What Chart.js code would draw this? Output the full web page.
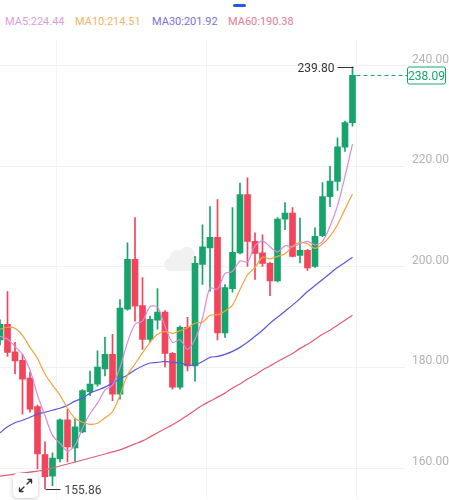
<!DOCTYPE html>
<html>
<head>
<meta charset="utf-8">
<script src="https://cdn.jsdelivr.net/npm/chart.js@4.4.0/dist/chart.umd.min.js"></script>
<style>
  html, body { margin:0; padding:0; background:#fff; }
  body { width:449px; height:500px; position:relative; overflow:hidden; font-family:Roboto, "Noto Sans", sans-serif; }
  #tab { position:absolute; left:233px; top:4px; width:13px; height:3px; background:#1d5fd8; border-radius:2px; }
  #legend { position:absolute; left:5px; top:15px; font-size:11px; white-space:nowrap; }
  #legend span { position:absolute; top:0; }
  /* faint watermark behind the candles */
  .wm { position:absolute; background:#f1f1f1; border-radius:50%; }
  /* chart area should land on y 40..500; Chart.js keeps ~13px for the tick labels */
  #wrap { position:absolute; left:0; top:26px; width:449px; height:487px; }
  #expand { position:absolute; left:13px; top:473px; width:25px; height:25px; background:#fff; border-radius:5px;
            box-shadow:0 1px 4px rgba(0,0,0,0.22); }
</style>
</head>
<body>
<div id="tab"></div>
<div id="legend"></div>
<div class="wm" style="left:164px;top:258px;width:36px;height:13px;border-radius:7px;"></div>
<div class="wm" style="left:170px;top:250px;width:14px;height:14px;"></div>
<div class="wm" style="left:179px;top:247px;width:16px;height:16px;"></div>
<div id="wrap"><canvas id="kline"></canvas></div>
<div id="expand">
  <svg width="25" height="25" viewBox="0 0 25 25" fill="none" stroke="#333" stroke-width="1.4" stroke-linecap="round" stroke-linejoin="round">
    <path d="M14 11 L18.5 6.5 M15 6.5 H18.5 V10"/>
    <path d="M11 14 L6.5 18.5 M6.5 15 V18.5 H10"/>
  </svg>
</div>
<script>
(function(){
  // candles, oldest first (last visible 48 bars)
  const opens  = [185.5,188.6,183.1,181.4,177.9,172.2,162.7,158.4,161.8,169.6,
                  164.0,167.2,175.2,176.7,179.7,182.6,174.7,191.6,201.5,192.3,
                  185.6,189.4,191.0,182.8,176.1,188.0,180.3,200.5,203.8,205.9,
                  186.9,195.7,202.8,214.4,205.1,202.8,200.7,197.2,209.5,210.7,
                  202.3,203.3,200.1,206.2,214.0,217.0,223.8,228.7];
  const highs  = [189.5,195.1,185.0,182.6,179.1,172.5,165.2,163.0,169.8,171.7,
                  169.7,175.6,179.3,183.3,186.0,186.6,193.5,204.8,209.8,197.9,
                  190.2,195.7,191.3,183.0,188.3,190.0,202.1,208.4,212.0,213.4,
                  196.5,211.8,216.7,217.7,206.8,206.4,200.9,209.8,212.8,211.8,
                  209.7,203.5,207.8,216.8,220.0,225.7,229.0,239.80];
  const lows   = [184.5,182.2,178.7,170.7,171.1,159.8,155.86,156.5,161.2,161.2,
                  161.2,167.0,174.4,176.3,178.3,173.4,173.7,191.4,189.2,183.6,
                  185.0,187.6,180.1,175.7,175.7,179.3,177.3,196.5,195.2,185.5,
                  186.0,195.0,202.6,200.1,197.5,200.1,194.3,197.0,207.4,202.0,
                  200.8,199.3,199.9,206.0,212.0,215.2,223.0,228.0];
  const closes = [188.6,183.0,181.3,177.7,171.7,162.8,158.3,162.0,169.6,164.2,
                  168.2,175.4,176.7,180.1,182.6,174.7,191.8,201.5,192.2,185.6,
                  189.6,191.0,182.8,176.1,188.0,180.3,200.7,204.0,205.9,186.9,
                  195.9,202.9,214.4,205.1,202.7,200.7,197.2,209.5,210.7,202.1,
                  203.3,199.8,206.1,214.0,217.1,223.9,228.7,238.09];

  // moving averages as drawn
  const ma5  = [186.2,185.6,184.2,182.6,179.5,174.5,170.4,166.5,164.9,163.4,
                164.5,167.9,170.8,172.9,175.5,176.5,180.0,185.0,188.6,189.2,
                192.1,192.0,188.2,185.0,185.5,183.6,185.6,189.8,195.8,195.6,
                198.7,199.1,201.2,201.0,204.2,205.2,204.0,203.0,204.2,204.0,
                204.6,205.1,204.4,205.1,208.1,212.2,218.0,224.44];
  const ma10 = [187.6,188.0,187.8,186.4,184.0,181.8,178.7,176.5,174.5,171.9,
                169.9,169.1,168.7,168.9,170.0,171.2,174.5,178.5,180.7,182.9,
                185.0,186.6,187.2,186.8,187.3,187.9,188.8,189.0,190.4,190.5,
                191.2,192.4,195.5,198.4,199.9,201.9,201.6,202.1,202.6,204.1,
                204.9,204.6,203.7,204.6,206.1,208.4,211.5,214.51];
  const ma30 = [167.0,168.2,169.0,169.5,170.1,170.7,171.1,171.5,171.9,172.5,
                173.3,173.9,174.9,175.5,176.1,176.9,177.7,178.5,179.5,180.3,
                180.9,181.0,181.2,181.0,180.9,180.5,180.5,181.2,182.0,182.2,
                182.6,183.2,184.0,185.0,186.2,187.4,188.8,190.0,191.2,192.4,
                193.7,195.1,196.3,197.5,198.7,199.9,200.9,201.92];
  const ma60 = [158.4,158.6,158.8,159.0,159.2,159.4,159.6,160.0,160.4,160.8,
                161.2,161.6,162.0,162.4,162.8,163.2,163.6,164.2,164.8,165.4,
                166.2,167.0,167.8,168.6,169.5,170.5,171.5,172.5,173.3,174.1,
                174.9,175.9,176.7,177.7,178.5,179.5,180.3,181.2,182.0,182.8,
                183.8,184.6,185.6,186.6,187.4,188.4,189.4,190.38];

  const yTicks = [160, 180, 200, 220, 240];
  const slotCount = 55;            // 48 bars + empty space on the right
  const gridSlots = [8, 28, 48];   // faint vertical grid lines

  const GREEN = '#17a46c', RED = '#f2445a';
  const maLines = [
    { name:'MA5',  data:ma5,  line:'#d98ad9', text:'#d9a2da', left:0 },
    { name:'MA10', data:ma10, line:'#f2a33a', text:'#f2b567', left:70 },
    { name:'MA30', data:ma30, line:'#5b57d9', text:'#7773d8', left:147 },
    { name:'MA60', data:ma60, line:'#e35d72', text:'#e47c90', left:223 }
  ];

  // legend text
  const legend = document.getElementById('legend');
  maLines.forEach(m => {
    const s = document.createElement('span');
    s.style.left = m.left + 'px'; s.style.color = m.text;
    s.textContent = m.name + ':' + m.data[m.data.length - 1].toFixed(2);
    legend.appendChild(s);
  });

  const labels = Array.from({length: slotCount}, (_, i) => String(i + 1));
  const barColors = closes.map((c, i) => c >= opens[i] ? GREEN : RED);

  // high / low / last price marks
  const markers = {
    id: 'markers',
    afterDatasetsDraw(chart){
      const {ctx, scales:{x, y}} = chart;
      ctx.save();
      ctx.font = '12px Roboto, "Noto Sans", sans-serif';
      ctx.textBaseline = 'middle';
      ctx.lineWidth = 1;

      const hi = highs.indexOf(Math.max(...highs));
      const hx = Math.round(x.getPixelForValue(hi)) + 0.5, hy = Math.round(y.getPixelForValue(highs[hi])) + 0.5;
      ctx.strokeStyle = '#333'; ctx.fillStyle = '#333';
      ctx.beginPath(); ctx.moveTo(hx - 16, hy); ctx.lineTo(hx, hy); ctx.stroke();
      ctx.textAlign = 'right';
      ctx.fillText(highs[hi].toFixed(2), hx - 19, hy + 1);

      const lo = lows.indexOf(Math.min(...lows));
      const lx = Math.round(x.getPixelForValue(lo)) + 0.5, ly = Math.round(y.getPixelForValue(lows[lo])) + 0.5;
      ctx.beginPath(); ctx.moveTo(lx, ly); ctx.lineTo(lx + 15, ly); ctx.stroke();
      ctx.textAlign = 'left';
      ctx.fillStyle = '#444';
      ctx.fillText(lows[lo].toFixed(2), lx + 19, ly + 1);

      const last = closes.length - 1;
      const px = x.getPixelForValue(last) + 4, py = Math.round(y.getPixelForValue(closes[last])) + 0.5;
      ctx.strokeStyle = GREEN;
      ctx.setLineDash([4, 3]);
      ctx.beginPath(); ctx.moveTo(px, py); ctx.lineTo(407, py); ctx.stroke();
      ctx.setLineDash([]);
      ctx.fillStyle = '#fff';
      ctx.beginPath(); ctx.roundRect(407.5, py - 8.5, 38, 17, 2); ctx.fill(); ctx.stroke();
      ctx.fillStyle = GREEN; ctx.textAlign = 'center';
      ctx.fillText(closes[last].toFixed(2), 426.5, py + 1);
      ctx.restore();
    }
  };

  new Chart(document.getElementById('kline'), {
    type: 'bar',
    data: {
      labels,
      datasets: [
        ...maLines.map(m => ({
          type:'line', data:m.data, borderColor:m.line, borderWidth:1.2,
          pointRadius:0, tension:0.3, fill:false, order:0
        })),
        { data: opens.map((o, i) => [o, closes[i]]), backgroundColor: barColors,
          barThickness:6, minBarLength:1, grouped:false, borderWidth:0, order:1 },
        { data: lows.map((l, i) => [l, highs[i]]), backgroundColor: barColors,
          barThickness:1, grouped:false, borderWidth:0, order:2 }
      ]
    },
    options: {
      responsive:true, maintainAspectRatio:false, animation:false,
      layout:{ padding:0 },
      plugins:{ legend:{display:false}, tooltip:{enabled:false} },
      scales:{
        x:{
          offset:false,
          grid:{ color: c => gridSlots.includes(c.index) ? '#f3f3f3' : 'rgba(0,0,0,0)', drawTicks:false },
          border:{ display:false },
          ticks:{ display:false }
        },
        y:{
          position:'right', min:153.88, max:245.1,
          afterBuildTicks: s => { s.ticks = yTicks.map(v => ({value:v})); },
          afterFit: s => { s.width = 44; },
          grid:{ color:'#f1f1f1', drawTicks:false },
          border:{ display:false },
          ticks:{ color:'#b3b3b3', padding:7, labelOffset:-6,
                  font:{ size:12, family:'Roboto' },
                  callback: v => Number(v).toFixed(2) }
        }
      }
    },
    plugins:[markers]
  });
})();
</script>
</body>
</html>
